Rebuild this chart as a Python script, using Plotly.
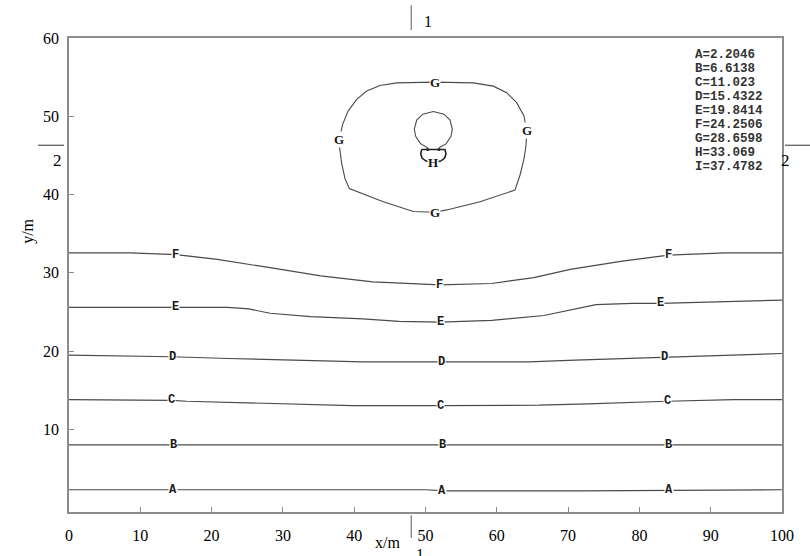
import numpy as np
import plotly.graph_objects as go

# ---------------- data ----------------
contour_levels = ["A=2.2046", "B=6.6138", "C=11.023", "D=15.4322", "E=19.8414",
                  "F=24.2506", "G=28.6598", "H=33.069", "I=37.4782"]

A_x = [0, 30, 50, 53, 72, 100]
A_y = [2.29, 2.29, 2.29, 2.16, 2.16, 2.29]

B_x = [0, 50, 100]
B_y = [8.02, 8.02, 8.02]

C_x = [0, 7.4, 14.4, 16.5, 25.9, 32.0, 39.7, 52.0, 65.9, 72.8, 78.7, 83.9, 93.2, 100]
C_y = [13.80, 13.72, 13.72, 13.60, 13.38, 13.17, 13.04, 13.04, 13.09, 13.26, 13.47, 13.60, 13.80, 13.80]

D_x = [0, 14.5, 22.3, 33.9, 41.2, 52.2, 64.5, 71.0, 83.5, 100]
D_y = [19.49, 19.28, 19.06, 18.85, 18.64, 18.64, 18.64, 18.85, 19.19, 19.70]

E_x = [0, 8.5, 14.9, 22.3, 25.2, 28.2, 33.9, 41.2, 46.3, 52.1, 59.3, 66.6, 73.9, 79.0, 82.9, 100]
E_y = [25.60, 25.60, 25.60, 25.60, 25.39, 24.84, 24.42, 24.12, 23.79, 23.70, 23.92, 24.55, 25.94, 26.11, 26.11, 26.52]

F_x = [0, 8.5, 15.0, 20.8, 28.2, 35.3, 42.6, 52.0, 59.3, 65.2, 70.3, 77.6, 84.1, 92.1, 100]
F_y = [32.54, 32.54, 32.34, 31.71, 30.66, 29.61, 28.85, 28.47, 28.64, 29.40, 30.45, 31.50, 32.27, 32.56, 32.54]

label_x = {
    "A": [14.6, 52.3, 84.1],
    "B": [14.6, 52.4, 84.1],
    "C": [14.4, 52.1, 83.9],
    "D": [14.5, 52.2, 83.5],
    "E": [14.9, 52.1, 82.9],
    "F": [15.0, 52.0, 84.1],
}

G_x = [51.33, 56.71, 59.51, 61.39, 62.79, 63.81, 64.19, 64.10, 63.81, 63.25, 62.55, 57.64, 52.97,
       51.33, 48.29, 44.08, 39.31, 38.71, 38.25, 37.97, 37.91, 38.39, 39.17, 40.35, 41.75, 43.62,
       45.96, 51.33]
G_y = [54.36, 54.27, 53.85, 53.01, 51.74, 50.05, 48.16, 46.26, 44.57, 42.47, 40.57, 39.09, 38.04,
       37.74, 37.83, 39.09, 40.78, 42.04, 43.94, 45.84, 47.02, 49.00, 50.69, 52.16, 53.22, 53.93,
       54.27, 54.36]
G_label_idx = [0, 6, 13, 20]

H_loop_x = [50.31, 49.33, 48.62, 48.43, 48.77, 49.61, 51.10, 52.59, 53.44, 53.76, 53.58, 52.88, 51.89]
H_loop_y = [45.97, 46.47, 47.44, 48.37, 49.51, 50.27, 50.61, 50.27, 49.51, 48.37, 47.44, 46.47, 45.97]
H_brk_x = [49.47, 49.33, 49.51, 50.07, 51.09, 52.13, 52.69, 52.88, 52.73, 49.47]
H_brk_y = [45.75, 45.21, 44.66, 44.28, 44.11, 44.28, 44.66, 45.21, 45.75, 45.75]
H_label_idx = 4

section_1_x = 48.0
section_2_y = 46.3

x_ticks = [0, 10, 20, 30, 40, 50, 60, 70, 80, 90, 100]
y_ticks = [10, 20, 30, 40, 50, 60]

# ---------------- figure ----------------
SERIF = "Liberation Serif, Times New Roman, Times, DejaVu Serif, serif"
MONO = "Liberation Mono, Courier New, DejaVu Sans Mono, monospace"
LINE = "#4a4a4a"
AXC = "#8c8c8c"
fig = go.Figure()

lines = {"A": (A_x, A_y), "B": (B_x, B_y), "C": (C_x, C_y),
         "D": (D_x, D_y), "E": (E_x, E_y), "F": (F_x, F_y)}
for name, (lx, ly) in lines.items():
    fig.add_trace(go.Scatter(x=lx, y=ly, mode="lines", line=dict(color=LINE, width=1.2),
                             hoverinfo="skip", showlegend=False))
fig.add_trace(go.Scatter(x=G_x, y=G_y, mode="lines", line=dict(color=LINE, width=1.1),
                         hoverinfo="skip", showlegend=False))
fig.add_trace(go.Scatter(x=H_loop_x, y=H_loop_y, mode="lines", line=dict(color=LINE, width=1.1),
                         hoverinfo="skip", showlegend=False))
fig.add_trace(go.Scatter(x=H_brk_x, y=H_brk_y, mode="lines", line=dict(color="#222", width=1.6),
                         hoverinfo="skip", showlegend=False))
fig.add_trace(go.Scatter(x=[H_loop_x[0], H_loop_x[-1]], y=[H_loop_y[0] - 0.2, H_loop_y[-1] - 0.2],
                         mode="markers", marker=dict(color="#222", size=3),
                         hoverinfo="skip", showlegend=False))

lab_font = dict(family=MONO, size=12, color="#1a1a1a")
for name, (lx, ly) in lines.items():
    for xv in label_x[name]:
        yv = float(np.interp(xv, lx, ly))
        fig.add_annotation(x=xv, y=yv, text=f"<b>{name}</b>", showarrow=False, font=lab_font,
                           bgcolor="white", borderpad=0, xanchor="center", yanchor="middle")
for i in G_label_idx:
    fig.add_annotation(x=G_x[i], y=G_y[i], text="<b>G</b>", showarrow=False,
                       font=dict(family=SERIF, size=13, color="#1a1a1a"),
                       bgcolor="white", borderpad=0)
fig.add_annotation(x=H_brk_x[H_label_idx], y=H_brk_y[H_label_idx], text="<b>H</b>", showarrow=False,
                   font=dict(family=SERIF, size=13, color="#111"),
                   bgcolor="white", borderpad=0)

# contour value list
for k, t in enumerate(contour_levels):
    fig.add_annotation(xref="paper", yref="paper", x=0.875, y=(516.7 - 55 - k * 14.2) / 478.7,
                       text=f"<b>{t}</b>", showarrow=False, xanchor="left", yanchor="middle",
                       font=dict(family=MONO, size=12.5, color="#333"))

# section markers 1 and 2
fig.add_shape(type="line", xref="x", yref="paper", x0=section_1_x, x1=section_1_x,
              y0=1.017, y1=1.069, line=dict(color="#777", width=1.2))
fig.add_shape(type="line", xref="x", yref="paper", x0=section_1_x, x1=section_1_x,
              y0=-0.007, y1=-0.055, line=dict(color="#777", width=1.2))
fig.add_annotation(xref="x", yref="paper", x=section_1_x + 2.3, y=1.034, text="1", showarrow=False,
                   font=dict(family=SERIF, size=16, color="black"), yanchor="middle")
fig.add_annotation(xref="x", yref="paper", x=section_1_x + 1.2, y=-0.068, text="1", showarrow=False,
                   font=dict(family=SERIF, size=16, color="black"), yanchor="top")
fig.add_shape(type="line", xref="paper", yref="y", x0=-0.0435, x1=-0.007,
              y0=section_2_y, y1=section_2_y, line=dict(color="#555", width=1.2))
fig.add_shape(type="line", xref="paper", yref="y", x0=1.0042, x1=1.04,
              y0=section_2_y, y1=section_2_y, line=dict(color="#555", width=1.2))
fig.add_annotation(xref="paper", yref="y", x=-0.025, y=section_2_y, yshift=-15, text="2",
                   showarrow=False, font=dict(family=SERIF, size=17, color="black"))
fig.add_annotation(xref="paper", yref="y", x=1.0147, y=section_2_y, yshift=-15, text="2",
                   showarrow=False, font=dict(family=SERIF, size=17, color="black"))

# axis titles
fig.add_annotation(xref="paper", yref="paper", x=-0.073, y=0.593, text="y/m", textangle=-90,
                   showarrow=False, font=dict(family=SERIF, size=16, color="black"))
fig.add_annotation(xref="paper", yref="paper", x=0.447, y=-0.0635, text="x/m", showarrow=False,
                   font=dict(family=SERIF, size=16, color="black"), yanchor="middle")

tick_font = dict(family=SERIF, size=16, color="black")
fig.update_xaxes(range=[0, 100], tickvals=x_ticks, ticktext=[str(v) for v in x_ticks],
                 showgrid=False, zeroline=False, showline=True, mirror=True,
                 linecolor=AXC, linewidth=1.5, ticks="inside", ticklen=5, tickcolor=AXC,
                 tickfont=tick_font, ticklabelstandoff=8)
fig.update_yaxes(range=[-0.55, 60], tickvals=y_ticks, ticktext=[str(v) for v in y_ticks],
                 showgrid=False, zeroline=False, showline=True, mirror=True,
                 linecolor=AXC, linewidth=1.5, ticks="inside", ticklen=5, tickcolor=AXC,
                 tickfont=tick_font, ticklabelstandoff=5)
fig.update_layout(width=810, height=556, margin=dict(l=69, r=28, t=38, b=39),
                  paper_bgcolor="white", plot_bgcolor="white", showlegend=False,
                  font=dict(family=SERIF))

fig.write_html("out.html")
